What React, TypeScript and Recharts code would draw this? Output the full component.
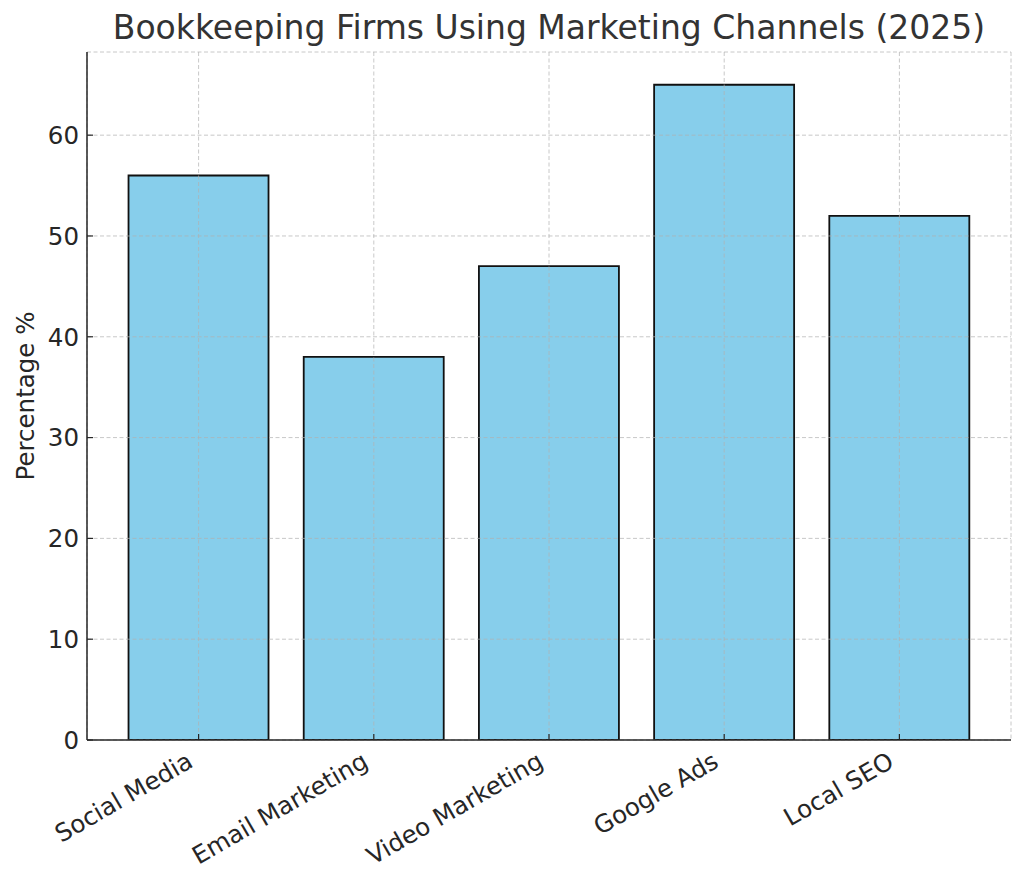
import { BarChart, Bar, XAxis, YAxis, CartesianGrid } from 'recharts';

const channels = ['Social Media', 'Email Marketing', 'Video Marketing', 'Google Ads', 'Local SEO'];
const percentages = [56, 38, 47, 65, 52];
const yTicks = [0, 10, 20, 30, 40, 50, 60];

const data = channels.map((channel, i) => ({ channel, pct: percentages[i] }));

const FONT = '"DejaVu Sans", sans-serif';
const INK = '#262626';
const TICK_SIZE = 24.5;

function YTick(props: any) {
  const { x, y, payload } = props;
  return (
    <g>
      <line x1={x} x2={x + 6} y1={y} y2={y} stroke={INK} strokeWidth={1.2} />
      <text x={x - 8} y={y} dy="0.36em" textAnchor="end" fontSize={TICK_SIZE} fontFamily={FONT} fill={INK}>
        {payload.value}
      </text>
    </g>
  );
}

function XTick(props: any) {
  const { x, y, payload } = props;
  const tx = x - 4;
  const ty = y + 26;
  return (
    <g>
      <line x1={x} x2={x} y1={y} y2={y - 6} stroke={INK} strokeWidth={1.2} />
      <text
        x={tx}
        y={ty}
        textAnchor="end"
        transform={`rotate(-30, ${tx}, ${ty})`}
        fontSize={TICK_SIZE}
        fontFamily={FONT}
        fill={INK}
      >
        {payload.value}
      </text>
    </g>
  );
}

function YLabel(props: any) {
  const { viewBox } = props;
  const cx = 25;
  const cy = viewBox.y + viewBox.height / 2;
  return (
    <text
      x={cx}
      y={cy}
      textAnchor="middle"
      dominantBaseline="central"
      transform={`rotate(-90, ${cx}, ${cy})`}
      fontSize={TICK_SIZE}
      fontFamily={FONT}
      fill={INK}
    >
      Percentage %
    </text>
  );
}

export default function App() {
  return (
    <div style={{ position: 'absolute', left: 0, top: 0, width: 1024, height: 884, background: '#fff' }}>
      <div
        style={{
          position: 'absolute',
          left: 87,
          width: 924,
          top: 7,
          textAlign: 'center',
          fontFamily: FONT,
          fontSize: 33,
          color: '#333',
          lineHeight: '42px',
        }}
      >
        Bookkeeping Firms Using Marketing Channels (2025)
      </div>
      <BarChart
        width={1024}
        height={884}
        data={data}
        margin={{ top: 52, right: 13, bottom: 44, left: 27 }}
        barCategoryGap="10%"
      >
        <XAxis
          dataKey="channel"
          height={100}
          padding={{ left: 24, right: 24 }}
          tickSize={0}
          tickMargin={0}
          tickLine={false}
          axisLine={{ stroke: INK, strokeWidth: 1.5 }}
          tick={<XTick />}
          interval={0}
        />
        <YAxis
          width={60}
          domain={[0, 68.25]}
          ticks={yTicks}
          allowDataOverflow
          tickSize={0}
          tickMargin={0}
          tickLine={false}
          axisLine={{ stroke: INK, strokeWidth: 1.5 }}
          tick={<YTick />}
          label={<YLabel />}
        />
        <Bar dataKey="pct" fill="#87CEEB" stroke="#111" strokeWidth={1.8} isAnimationActive={false} />
        <CartesianGrid
          stroke="#b0b0b0"
          strokeOpacity={0.7}
          strokeDasharray="4 2.5"
          strokeWidth={1}
          zIndex={400}
        />
      </BarChart>
    </div>
  );
}
